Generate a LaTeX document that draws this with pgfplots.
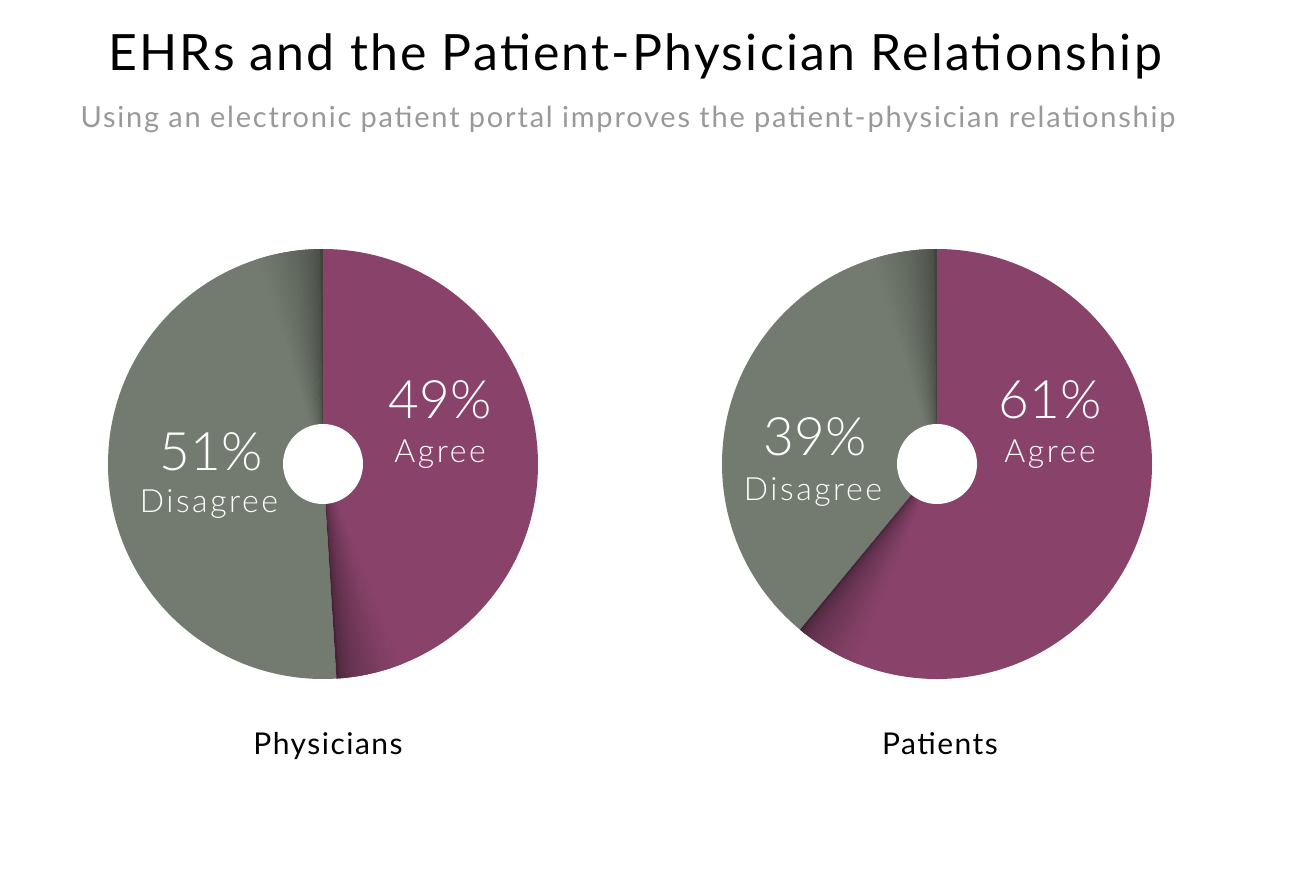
\documentclass[border=0pt]{standalone}
\usepackage{pgfplots}
\pgfplotsset{compat=1.18}
\usepackage{pgfplotstable}
\usepackage{fontspec}
\setmainfont{Lato}
\newfontfamily\lightfont{Lato Light}

\definecolor{agreecol}{RGB}{137,67,107}
\definecolor{agreedark}{RGB}{70,36,56}
\definecolor{disagreecol}{RGB}{115,123,112}
\definecolor{disagreedark}{RGB}{64,68,62}
\definecolor{subgray}{RGB}{153,153,153}

\pgfplotstableread{
group agree disagree
Physicians 49 51
Patients 61 39
}\piedata

\pgfplotstablegetelem{0}{agree}\of\piedata \let\agreeA\pgfplotsretval
\pgfplotstablegetelem{1}{agree}\of\piedata \let\agreeB\pgfplotsretval
\pgfplotstablegetelem{0}{disagree}\of\piedata \let\disA\pgfplotsretval
\pgfplotstablegetelem{1}{disagree}\of\piedata \let\disB\pgfplotsretval
% agree runs clockwise from 12 o'clock
\pgfmathsetmacro\endA{90-3.6*\agreeA}
\pgfmathsetmacro\endB{90-3.6*\agreeB}

% edge shading steps, dark at the clockwise end of each slice
\foreach \i in {0,...,23}{
  \pgfmathtruncatemacro\p{round(100*sqrt(\i/23))}
  \xglobal\colorlet{ag\i}{agreecol!\p!agreedark}
  \xglobal\colorlet{dg\i}{disagreecol!\p!disagreedark}
}

\newcommand\drawpie[3]{% cx, cy, end angle of agree slice
  \fill[agreecol] (axis cs:#1,#2) -- ++(#3:215pt) arc[start angle=#3, end angle=90, radius=215pt] -- cycle;
  \fill[disagreecol] (axis cs:#1,#2) -- ++(90:215pt) arc[start angle=90, end angle=#3+360, radius=215pt] -- cycle;
  \pgfplotsinvokeforeach{0,...,23}{
    \fill[ag##1] (axis cs:#1,#2) -- ++({#3+##1*0.75}:215pt)
      arc[start angle={#3+##1*0.75}, end angle={#3+##1*0.75+1}, radius=215pt] -- cycle;
    \fill[dg##1] (axis cs:#1,#2) -- ++({90+##1*0.75}:215pt)
      arc[start angle={90+##1*0.75}, end angle={90+##1*0.75+1}, radius=215pt] -- cycle;
  }
  \fill[white] (axis cs:#1,#2) circle[radius=40pt];
}

\newcommand\pct{\lightfont\fontsize{53}{60}\selectfont}
\newcommand\lbl{\lightfont\fontsize{32}{38}\selectfont\addfontfeature{LetterSpace=8}}
\newcommand\grp{\fontsize{30}{36}\selectfont\addfontfeature{LetterSpace=5}}

\begin{document}
\begin{tikzpicture}
\begin{axis}[
    width=1290pt, height=878pt, scale only axis,
    xmin=0, xmax=1290, ymin=0, ymax=878,
    y dir=reverse,
    hide axis, clip=false,
]
\path (axis cs:0,0) rectangle (axis cs:1290,878);

\node[anchor=base, font=\fontsize{50}{60}\selectfont\addfontfeature{LetterSpace=4.5}] at (axis cs:635,70)
  {EHRs and the Patient-Physician Relationship};
\node[anchor=base, text=subgray, font=\fontsize{29}{34}\selectfont\addfontfeature{LetterSpace=6.2}] at (axis cs:628,127)
  {Using an electronic patient portal improves the patient-physician relationship};

\drawpie{323}{464}{\endA}
\drawpie{937}{464}{\endB}

\node[anchor=base, text=white, font=\pct] at (axis cs:440,418) {\agreeA\%};
\node[anchor=base, text=white, font=\lbl] at (axis cs:440,462) {Agree};
\node[anchor=base, text=white, font=\pct] at (axis cs:211,470) {\disA\%};
\node[anchor=base, text=white, font=\lbl] at (axis cs:209,512) {Disagree};

\node[anchor=base, text=white, font=\pct] at (axis cs:1050,418) {\agreeB\%};
\node[anchor=base, text=white, font=\lbl] at (axis cs:1050,462) {Agree};
\node[anchor=base, text=white, font=\pct] at (axis cs:815,455) {\disB\%};
\node[anchor=base, text=white, font=\lbl] at (axis cs:813,500) {Disagree};

\node[anchor=base, font=\grp] at (axis cs:328,754) {Physicians};
\node[anchor=base, font=\grp] at (axis cs:940,754) {Patients};
\end{axis}
\end{tikzpicture}
\end{document}
